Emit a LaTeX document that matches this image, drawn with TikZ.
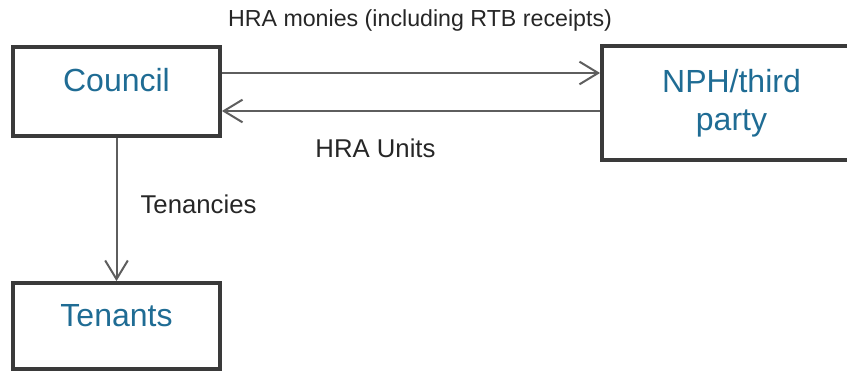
\documentclass[tikz,border=0pt]{standalone}
\usepackage{fontspec}
\setmainfont{Liberation Sans}
\usetikzlibrary{arrows.meta,positioning,calc}
\definecolor{boxline}{HTML}{3A3A3A}
\definecolor{flowline}{HTML}{5E5E5E}
\definecolor{boxtext}{HTML}{1F6C94}

\begin{document}
\begin{tikzpicture}[x=0.75pt,y=-0.75pt,
  party/.style={draw=boxline,line width=2.9pt,inner sep=0pt,text=boxtext,
    font=\fontsize{24}{28.5}\selectfont,text height=12pt,text depth=12pt},
  flow/.style={draw=flowline,line width=1.5pt,
    -{Straight Barb[length=14pt,width=17pt,line width=1.5pt]}},
  tag/.style={text=black!85,font=\fontsize{19.3}{23}\selectfont}]
\useasboundingbox (0,0) rectangle (847,371);
\clip (0,0) rectangle (847,371);
\node[party,minimum width=155.25pt,minimum height=66.75pt] (council) at (116.5,91.5) {Council};
\node[party,minimum width=194.25pt,minimum height=85.5pt,align=center,text height=,text depth=] (nph) at (731.5,103) {NPH/third\\party};
\node[party,minimum width=155.25pt,minimum height=64.5pt] (tenants) at (116.5,326) {Tenants};
\coordinate (out) at ($(council.east)+(0,-18.5)$);
\coordinate (back) at ($(council.east)+(0,19.5)$);
\draw[flow] (out) -- (out -| nph.west);
\draw[flow] (back -| nph.west) -- (back);
\draw[flow] (council) -- (tenants);
\node[tag,font=\fontsize{17.4}{21}\selectfont] (monies) at (420,21) {HRA monies (including RTB receipts)};
\node[tag] (units) at (375.5,148) {HRA Units};
\node[tag] (tenancies) at (198.5,204) {Tenancies};
\end{tikzpicture}
\end{document}
